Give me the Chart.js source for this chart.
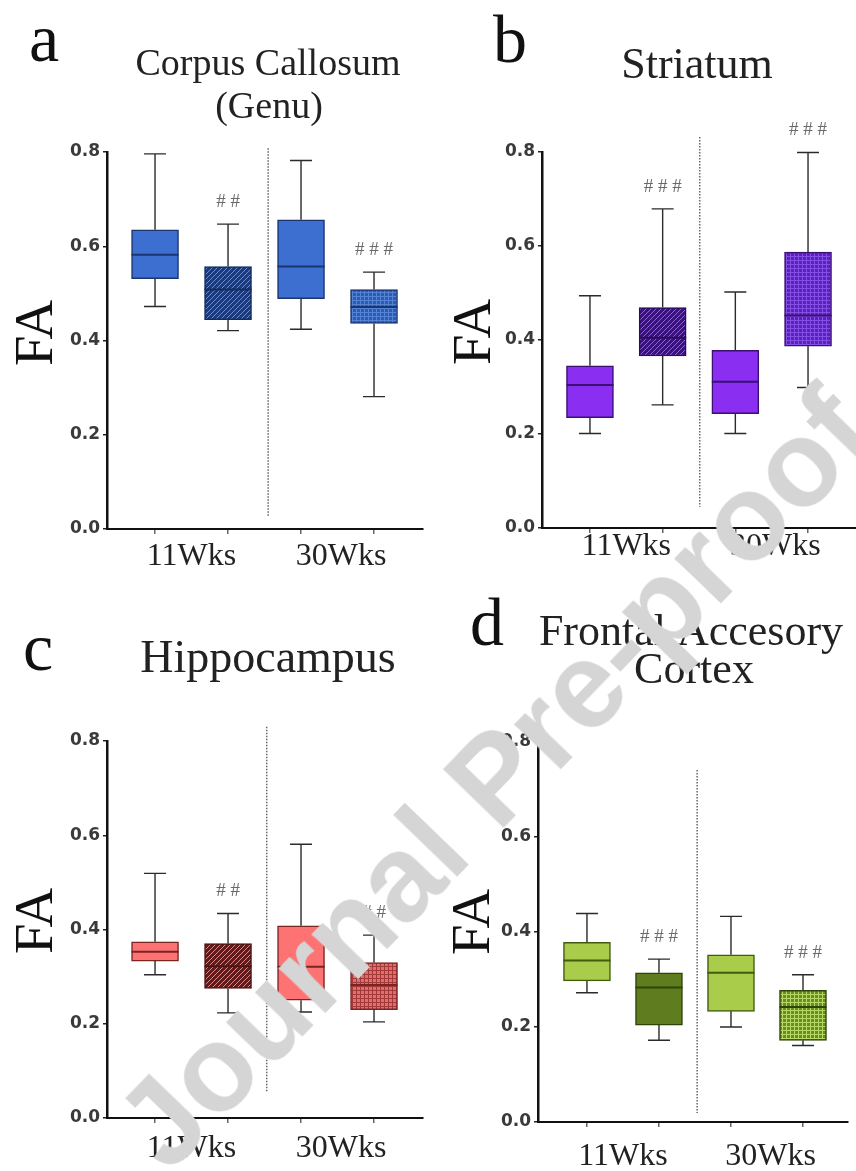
<!DOCTYPE html>
<html lang="en">
<head>
    <meta charset="UTF-8">
    <title>FA box plots</title>
    <script src="https://cdn.jsdelivr.net/npm/chart.js"></script>
    <style>
        body { margin: 0; background: #fff; }
        #wrap { position: relative; width: 856px; height: 1171px; overflow: hidden; }
        canvas { position: absolute; }
        #wm {
            position: absolute; left: 494px; top: 778px;
            transform: translate(-50%, -50%) rotate(-46deg);
            white-space: nowrap; font: bold 122px "Liberation Sans", Arial, sans-serif;
            color: #d5d5d5; pointer-events: none; z-index: 5;
        }
    </style>
</head>
<body>
<div id="wrap">
    <canvas id="ca" width="430" height="590" style="left:0;top:0"></canvas>
    <canvas id="st" width="426" height="590" style="left:430px;top:0"></canvas>
    <canvas id="hc" width="430" height="581" style="left:0;top:590px"></canvas>
    <canvas id="fc" width="426" height="581" style="left:430px;top:590px"></canvas>
    <div id="wm">Journal Pre-proof</div>
</div>

<script>
    // groups on the x axis and y ticks
    const groups = ['11Wks', '30Wks'];
    const yTicks = [0, 0.2, 0.4, 0.6, 0.8];

    // a - Corpus Callosum (Genu)
    const ccMax = [0.796, 0.647, 0.782, 0.545];
    const ccQ3  = [0.635, 0.557, 0.656, 0.508];
    const ccMed = [0.582, 0.508, 0.557, 0.471];
    const ccQ1  = [0.531, 0.444, 0.489, 0.436];
    const ccMin = [0.472, 0.421, 0.424, 0.281];
    const ccSig = ['', '##', '', '###'];

    // b - Striatum
    const stMax = [0.494, 0.679, 0.502, 0.799];
    const stQ3  = [0.345, 0.469, 0.378, 0.587];
    const stMed = [0.304, 0.405, 0.311, 0.452];
    const stQ1  = [0.235, 0.366, 0.243, 0.387];
    const stMin = [0.201, 0.262, 0.201, 0.299];
    const stSig = ['', '###', '', '###'];

    // c - Hippocampus
    const hcMax = [0.519, 0.434, 0.581, 0.388];
    const hcQ3  = [0.374, 0.370, 0.408, 0.330];
    const hcMed = [0.353, 0.322, 0.321, 0.282];
    const hcQ1  = [0.333, 0.275, 0.250, 0.230];
    const hcMin = [0.304, 0.223, 0.225, 0.204];
    const hcSig = ['', '##', '', '##'];

    // d - Frontal Accesory Cortex
    const fcMax = [0.439, 0.343, 0.433, 0.310];
    const fcQ3  = [0.378, 0.314, 0.352, 0.277];
    const fcMed = [0.340, 0.283, 0.314, 0.242];
    const fcQ1  = [0.297, 0.204, 0.233, 0.172];
    const fcMin = [0.272, 0.172, 0.200, 0.161];
    const fcSig = ['', '###', '', '###'];

    const SERIF = '"Liberation Serif", "Times New Roman", serif';

    function diag(ctx, bg, fg, gap) {
        const c = document.createElement('canvas');
        c.width = c.height = gap;
        const g = c.getContext('2d');
        g.fillStyle = bg; g.fillRect(0, 0, gap, gap);
        g.strokeStyle = fg; g.lineWidth = 1;
        g.beginPath();
        g.moveTo(0, gap); g.lineTo(gap, 0);
        g.moveTo(-1, 1); g.lineTo(1, -1);
        g.moveTo(gap - 1, gap + 1); g.lineTo(gap + 1, gap - 1);
        g.stroke();
        return ctx.createPattern(c, 'repeat');
    }

    function grid(ctx, bg, fg, gap) {
        const c = document.createElement('canvas');
        c.width = c.height = gap;
        const g = c.getContext('2d');
        g.fillStyle = bg; g.fillRect(0, 0, gap, gap);
        g.fillStyle = fg;
        g.fillRect(0, 0, gap, 1);
        g.fillRect(0, 0, 1, gap);
        return ctx.createPattern(c, 'repeat');
    }

    const panels = [
        {
            id: 'ca', w: 430, h: 590, area: { l: 107, r: 423, t: 152, b: 529 },
            xMin: 0.342, xMax: 4.671, divX: 2.55, divTop: 0.808, divBottom: 0.025,
            max: ccMax, q3: ccQ3, med: ccMed, q1: ccQ1, min: ccMin, sig: ccSig,
            fills: ctx => ['#3c6fd0', diag(ctx, '#1d3b7c', '#6390dc', 5), '#3c6fd0', grid(ctx, '#2d5ab4', '#5583d4', 4)],
            border: ['#1b3570', '#152b5c', '#1b3570', '#1b3570'],
            letter: { t: 'a', x: 29, y: 61 },
            title: { size: 38, lines: [['Corpus Callosum', 268, 75], ['(Genu)', 269, 118]] },
            fa: [38, 333], labelGap: 36
        },
        {
            id: 'st', w: 426, h: 590, area: { l: 112, r: 426, t: 152, b: 528 },
            xMin: 0.34, xMax: 4.66, divX: 2.51, divTop: 0.832, divBottom: 0.045,
            max: stMax, q3: stQ3, med: stMed, q1: stQ1, min: stMin, sig: stSig,
            fills: ctx => ['#8a2ef2', diag(ctx, '#3a137a', '#8e60e8', 5), '#8a2ef2', grid(ctx, '#5d1ec2', '#8450e4', 4)],
            border: ['#3b0f73', '#2a0b5a', '#3b0f73', '#3b0f73'],
            letter: { t: 'b', x: 63, y: 62 },
            title: { size: 44, lines: [['Striatum', 267, 78]] },
            fa: [46, 332], labelGap: 27
        },
        {
            id: 'hc', w: 430, h: 581, area: { l: 107, r: 423, t: 151, b: 528 },
            xMin: 0.342, xMax: 4.671, divX: 2.53, divTop: 0.83, divBottom: 0.055,
            max: hcMax, q3: hcQ3, med: hcMed, q1: hcQ1, min: hcMin, sig: hcSig,
            fills: ctx => ['#fd7272', diag(ctx, '#5e1c1c', '#ef8080', 5), '#fd7272', grid(ctx, '#e46c6c', '#a33a3a', 4)],
            border: ['#7a2424', '#4a1414', '#7a2424', '#7a2424'],
            letter: { t: 'c', x: 23, y: 80 },
            title: { size: 46, lines: [['Hippocampus', 268, 82]] },
            fa: [38, 331], labelGap: 39
        },
        {
            id: 'fc', w: 426, h: 581, area: { l: 108, r: 418, t: 152, b: 532 },
            xMin: 0.32, xMax: 4.625, divX: 2.53, divTop: 0.741, divBottom: 0.019,
            max: fcMax, q3: fcQ3, med: fcMed, q1: fcQ1, min: fcMin, sig: fcSig,
            fills: ctx => ['#a9cc4a', '#5f7d1e', '#a9cc4a', grid(ctx, '#6a8c24', '#b6d867', 4)],
            border: ['#3f5c0f', '#2f4508', '#3f5c0f', '#2f4508'],
            letter: { t: 'd', x: 40, y: 55 },
            title: { size: 44, lines: [['Frontal Accesory', 261, 55], ['Cortex', 264, 93]] },
            fa: [45, 332], labelGap: 43
        }
    ];

    function decor(p) {
        return {
            id: 'decor',
            afterDatasetsDraw(chart) {
                const ctx = chart.ctx, y = chart.scales.y;
                const bars = chart.getDatasetMeta(0).data;
                bars.forEach((bar, i) => {
                    const cx = bar.x, half = bar.width / 2, cap = 11;
                    const pMax = y.getPixelForValue(p.max[i]);
                    const pMin = y.getPixelForValue(p.min[i]);
                    ctx.save();
                    ctx.strokeStyle = '#2b2b2b';
                    ctx.lineWidth = 1.4;
                    ctx.beginPath();
                    ctx.moveTo(cx, y.getPixelForValue(p.q3[i])); ctx.lineTo(cx, pMax);
                    ctx.moveTo(cx - cap, pMax); ctx.lineTo(cx + cap, pMax);
                    ctx.moveTo(cx, y.getPixelForValue(p.q1[i])); ctx.lineTo(cx, pMin);
                    ctx.moveTo(cx - cap, pMin); ctx.lineTo(cx + cap, pMin);
                    ctx.stroke();
                    // median
                    const pMed = y.getPixelForValue(p.med[i]);
                    ctx.strokeStyle = p.border[i];
                    ctx.lineWidth = 2;
                    ctx.beginPath();
                    ctx.moveTo(cx - half, pMed); ctx.lineTo(cx + half, pMed);
                    ctx.stroke();
                    // significance marks
                    if (p.sig[i]) {
                        ctx.fillStyle = '#6a6a6a';
                        ctx.font = '19px ' + SERIF;
                        ctx.textAlign = 'center';
                        ctx.textBaseline = 'middle';
                        ctx.fillText(p.sig[i].split('').join(' '), cx, pMax - 22);
                    }
                    ctx.restore();
                });
            },
            afterDraw(chart) {
                const ctx = chart.ctx, x = chart.scales.x;
                ctx.save();
                ctx.fillStyle = '#111';
                ctx.textBaseline = 'alphabetic';
                ctx.textAlign = 'left';
                ctx.font = '68px ' + SERIF;
                ctx.fillText(p.letter.t, p.letter.x, p.letter.y);

                ctx.fillStyle = '#222';
                ctx.textAlign = 'center';
                ctx.font = p.title.size + 'px ' + SERIF;
                p.title.lines.forEach(l => ctx.fillText(l[0], l[1], l[2]));

                ctx.font = '32px ' + SERIF;
                [1.5, 3.55].forEach((v, i) => {
                    ctx.fillText(groups[i], x.getPixelForValue(v), chart.chartArea.bottom + p.labelGap);
                });

                ctx.translate(p.fa[0], p.fa[1]);
                ctx.rotate(-Math.PI / 2);
                ctx.textBaseline = 'middle';
                ctx.fillStyle = '#111';
                ctx.font = '55px ' + SERIF;
                ctx.fillText('FA', 0, 0);
                ctx.restore();
            }
        };
    }

    panels.forEach(p => {
        const ctx = document.getElementById(p.id).getContext('2d');
        new Chart(ctx, {
            type: 'bar',
            data: {
                datasets: [
                    {
                        type: 'bar',
                        data: p.q1.map((v, i) => ({ x: i + 1, y: [v, p.q3[i]] })),
                        backgroundColor: p.fills(ctx),
                        borderColor: p.border,
                        borderWidth: 1.5,
                        borderSkipped: false,
                        barThickness: 47,
                        order: 2
                    },
                    {
                        type: 'line',
                        data: [{ x: p.divX, y: p.divTop }, { x: p.divX, y: p.divBottom }],
                        borderColor: '#666',
                        borderWidth: 1.5,
                        borderDash: [1.5, 1.5],
                        pointRadius: 0,
                        clip: false,
                        order: 1
                    }
                ]
            },
            options: {
                responsive: false,
                animation: false,
                devicePixelRatio: 1,
                layout: { padding: { left: 0, top: p.area.t, right: p.w - p.area.r, bottom: 0 } },
                plugins: { legend: { display: false }, tooltip: { enabled: false } },
                scales: {
                    x: {
                        type: 'linear',
                        min: p.xMin,
                        max: p.xMax,
                        offset: false,
                        afterBuildTicks: s => { s.ticks = [1, 2, 3, 4].map(v => ({ value: v })); },
                        afterFit: s => { s.height = p.h - p.area.b; },
                        ticks: { autoSkip: false, callback: () => '' },
                        grid: { offset: false, drawOnChartArea: false, drawTicks: true, tickLength: 5, color: '#666', lineWidth: 1.5 },
                        border: { color: '#111', width: 2 }
                    },
                    y: {
                        min: 0,
                        max: 0.8,
                        afterBuildTicks: s => { s.ticks = yTicks.map(v => ({ value: v })); },
                        afterFit: s => { s.width = p.area.l; },
                        ticks: {
                            callback: v => v.toFixed(1),
                            color: '#3a3a3a',
                            padding: 3,
                            font: { family: '"DejaVu Sans"', weight: 'bold', size: 17 }
                        },
                        grid: { drawOnChartArea: false, drawTicks: true, tickLength: 4, color: '#222', lineWidth: 1.5 },
                        border: { color: '#111', width: 2.5 }
                    }
                }
            },
            plugins: [decor(p)]
        });
    });
</script>
</body>
</html>
